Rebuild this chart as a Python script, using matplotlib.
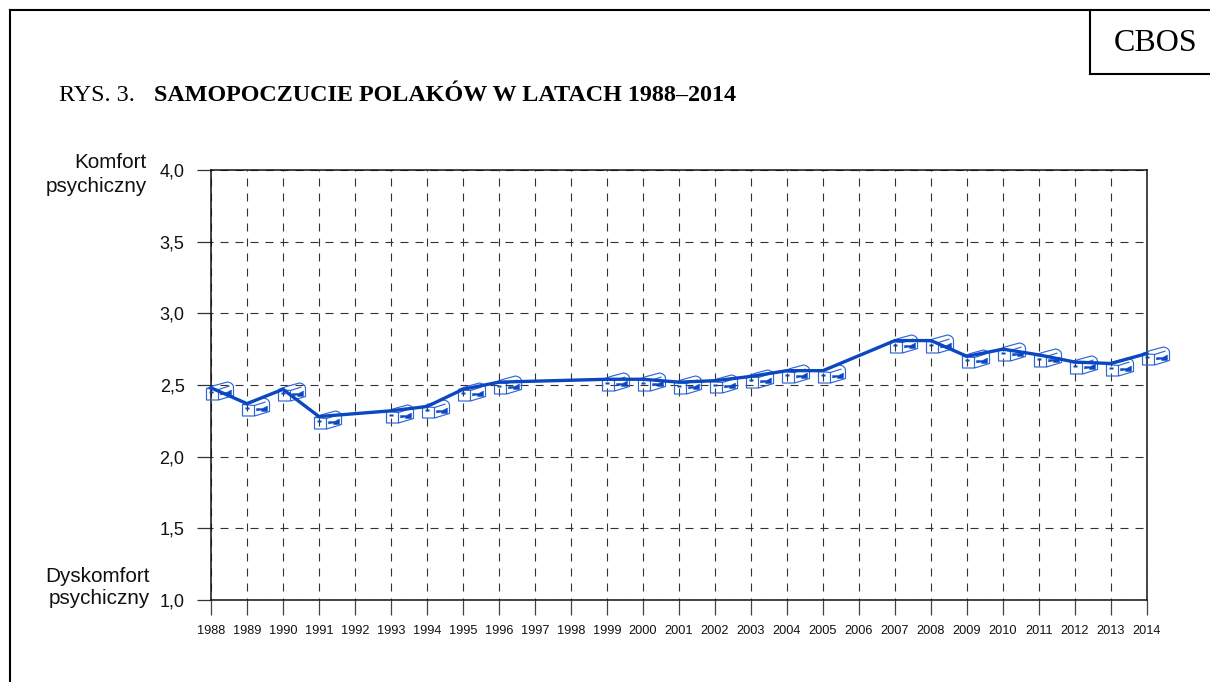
import matplotlib
matplotlib.use("Agg")
import matplotlib.pyplot as plt
from matplotlib.lines import Line2D
from matplotlib.path import Path

years = [1988, 1989, 1990, 1991, 1993, 1994, 1995, 1996, 1999, 2000, 2001, 2002,
         2003, 2004, 2005, 2007, 2008, 2009, 2010, 2011, 2012, 2013, 2014]
values = [2.48, 2.37, 2.47, 2.28, 2.32, 2.35, 2.47, 2.52, 2.54, 2.54, 2.52, 2.53,
          2.56, 2.60, 2.60, 2.81, 2.81, 2.70, 2.75, 2.71, 2.66, 2.65, 2.72]
x_ticks = list(range(1988, 2015))
y_ticks = [1.0, 1.5, 2.0, 2.5, 3.0, 3.5, 4.0]
y_labels = ["1,0", "1,5", "2,0", "2,5", "3,0", "3,5", "4,0"]
title_prefix = "RYS. 3."
title_bold = "SAMOPOCZUCIE POLAKÓW W LATACH 1988–2014"

W, H = 1210, 682
DPI = 100
PT = 72 / DPI
BLUE = "#0a47c0"
ICON = "#2f66d6"
SANS = "Liberation Sans"
SERIF = "Liberation Serif"

fig = plt.figure(figsize=(W / DPI, H / DPI), dpi=DPI, facecolor="white")
ax = fig.add_axes([211 / W, 1 - 600 / H, (1147 - 211) / W, (600 - 170) / H])
ax.set_xlim(1988, 2014)
ax.set_ylim(1, 4)


def fx(px):
    return px / W


def fy(py):
    return 1 - py / H


# Icon outline, in pixels relative to the data point (y up)
M, L, C = Path.MOVETO, Path.LINETO, Path.CURVE3
outline = Path(
    [(-5, 0), (-5, -11.5), (7, -11.5), (22, -7), (22, 1), (22, 5.5), (16, 6.5), (3, 3), (-5, 0),
     (-5, 0), (7, -1), (7, -11.5), (7, -1), (18, 2.5)],
    [M, L, L, L, L, C, C, L, L,
     M, L, L, M, L],
)
solid = Path(
    [(9, -4), (15, -4), (20, -1.5), (20, -7), (14, -7), (14, -5.5), (9, -6.5), (9, -4)],
    closed=True,
)
dash = Path([(-2, -3.5), (2, -3.5), (2, -5), (-2, -5), (-2, -3.5)], closed=True)


def marker_size(path):
    return 2 * abs(path.vertices).max() * PT


ax.plot(years, values, ls="none", marker=outline, mfc="none", mec=ICON, mew=0.85,
        ms=marker_size(outline), zorder=3, clip_on=False)
ax.plot(years, values, ls="none", marker=solid, mfc=BLUE, mec=BLUE, mew=0.3,
        ms=marker_size(solid), zorder=3, clip_on=False)
ax.plot(years, values, ls="none", marker=dash, mfc=BLUE, mec="none",
        ms=marker_size(dash), zorder=3, clip_on=False)
ax.plot(years, values, color=BLUE, lw=2.4, zorder=4, solid_joinstyle="miter", clip_on=False)

ax.set_xticks(x_ticks)
ax.set_xticklabels([str(y) for y in x_ticks], fontsize=9.2, family=SANS, color="#111111")
ax.set_yticks(y_ticks)
ax.set_yticklabels(y_labels, fontsize=13, family=SANS, color="#111111")
ax.tick_params(axis="x", length=10.8, width=0.9, color="#444444", pad=7)
ax.tick_params(axis="y", length=10, width=0.9, color="#333333", pad=9)
ax.grid(True, color="#333333", lw=0.8, ls=(5.4, (7.2, 6.3)), zorder=1)
ax.set_axisbelow(True)
for s in ax.spines.values():
    s.set_linewidth(1.1)
    s.set_color("#111111")

fig.text(fx(147), fy(163), "Komfort", ha="right", va="center", fontsize=14.9, family=SANS, color="#111111")
fig.text(fx(147), fy(187), "psychiczny", ha="right", va="center", fontsize=14.9, family=SANS, color="#111111")
fig.text(fx(150), fy(576.5), "Dyskomfort", ha="right", va="center", fontsize=14.9, family=SANS, color="#111111")
fig.text(fx(150), fy(599), "psychiczny", ha="right", va="center", fontsize=14.9, family=SANS, color="#111111")

fig.text(fx(59), fy(95.5), title_prefix, ha="left", va="center", fontsize=17.4, family=SERIF, color="black")
fig.text(fx(154), fy(95.5), title_bold, ha="left", va="center", fontsize=17.4, family=SERIF,
         weight="bold", color="black")
fig.text(fx(1156), fy(43.5), "CBOS", ha="center", va="center", fontsize=23, family=SERIF, color="black")

for (x0, y0, x1, y1) in [(10, 682, 10, 10), (10, 10, 1210, 10), (1089.5, 10, 1089.5, 74), (1089.5, 74, 1210, 74)]:
    fig.add_artist(Line2D([fx(x0), fx(x1)], [fy(y0), fy(y1)], color="black", lw=1.5,
                          transform=fig.transFigure, solid_capstyle="projecting"))

fig.savefig("out.png", dpi=DPI, facecolor="white")
